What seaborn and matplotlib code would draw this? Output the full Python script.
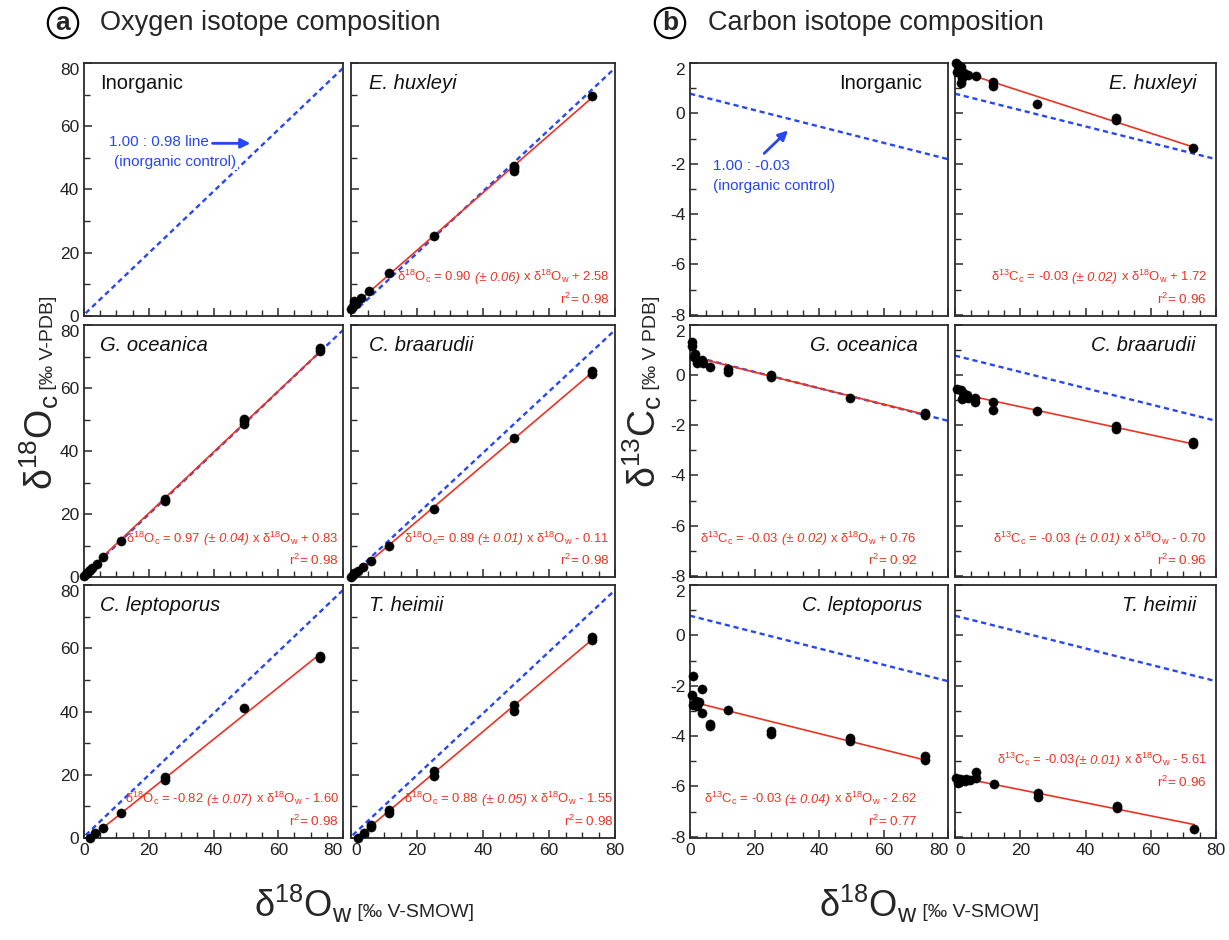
import numpy as np
import matplotlib
matplotlib.use("Agg")
import matplotlib.pyplot as plt
import seaborn as sns
from matplotlib.ticker import MultipleLocator
from matplotlib.offsetbox import TextArea, HPacker, AnnotationBbox

# ---------------- data ----------------
species = ["Inorganic", "E. huxleyi", "G. oceanica", "C. braarudii", "C. leptoporus", "T. heimii"]

# Oxygen: delta18O_w (x) vs delta18O_c (y)
ehux_o_x = [0, 0.5, 1, 1.5, 3, 5.5, 11.5, 25, 49.5, 49.5, 49.5, 73]
ehux_o_y = [2.2, 3.2, 4.8, 3.8, 5.8, 8.0, 13.5, 25.2, 45.8, 46.8, 47.3, 69.6]
gocean_o_x = [0, 0.5, 1, 1.5, 2, 2.5, 4, 6, 11.5, 25, 25, 49.5, 49.5, 49.5, 73, 73]
gocean_o_y = [0.3, 0.8, 1.3, 1.8, 2.3, 2.8, 4.2, 6.2, 11.5, 24.0, 24.8, 48.5, 49.5, 50.2, 71.6, 72.6]
cbraa_o_x = [0, 0.5, 1, 2, 3.5, 6, 11.5, 25, 49.5, 73, 73]
cbraa_o_y = [0, 0.6, 1.2, 2.0, 3.2, 5.0, 10.0, 21.7, 44.0, 64.6, 65.4]
clept_o_x = [2, 3.5, 6, 11.5, 25, 25, 49.5, 73, 73]
clept_o_y = [0, 1.5, 3.2, 8.0, 18.2, 19.2, 41.0, 56.8, 57.7]
theim_o_x = [2, 4, 6, 6, 11.5, 11.5, 25, 25, 49.5, 49.5, 73, 73]
theim_o_y = [0, 1.6, 3.5, 4.2, 8.0, 8.8, 19.5, 21.2, 40.2, 42.0, 62.5, 63.4]

# Carbon: delta18O_w (x) vs delta13C_c (y)
ehux_c_x = [0.3, 0.9, 1.7, 0.5, 2.5, 2.8, 4, 1.9, 2, 6.3, 11.6, 11.6, 25, 49.5, 49.5, 73]
ehux_c_y = [2.0, 1.93, 1.86, 1.65, 1.56, 1.6, 1.53, 1.21, 1.39, 1.47, 1.25, 1.1, 0.36, -0.17, -0.26, -1.39]
gocean_c_x = [0.5, 0.5, 1.6, 1.3, 2.3, 3.7, 4, 6.1, 11.7, 11.7, 25, 25, 49.5, 73, 73]
gocean_c_y = [1.32, 1.18, 0.83, 0.74, 0.5, 0.6, 0.5, 0.34, 0.24, 0.13, 0.0, -0.08, -0.92, -1.51, -1.58]
cbraa_c_x = [0.7, 1.7, 2.5, 2.1, 3.8, 4, 6.1, 6.1, 11.6, 11.6, 25, 49.5, 49.5, 73, 73]
cbraa_c_y = [-0.57, -0.61, -0.7, -0.94, -0.78, -0.91, -0.91, -1.09, -1.09, -1.39, -1.42, -2.04, -2.14, -2.66, -2.75]
clept_c_x = [0.9, 0.5, 3.8, 1.1, 1.9, 2.7, 2.3, 0.9, 3.8, 6.1, 6.1, 11.7, 25, 25, 49.6, 49.6, 73, 73]
clept_c_y = [-1.6, -2.36, -2.12, -2.72, -2.62, -2.64, -2.82, -2.78, -3.08, -3.51, -3.62, -2.95, -3.8, -3.93, -4.09, -4.2, -4.79, -4.96]
theim_c_x = [0.4, 1.4, 2.5, 0.9, 1.9, 3.5, 4.5, 3, 6.5, 6.5, 12, 25.3, 25.3, 49.7, 49.7, 73.3]
theim_c_y = [-5.65, -5.7, -5.75, -5.85, -5.8, -5.7, -5.75, -5.8, -5.41, -5.67, -5.91, -6.28, -6.41, -6.76, -6.87, -7.7]

oxy_x = [None, ehux_o_x, gocean_o_x, cbraa_o_x, clept_o_x, theim_o_x]
oxy_y = [None, ehux_o_y, gocean_o_y, cbraa_o_y, clept_o_y, theim_o_y]
carb_x = [None, ehux_c_x, gocean_c_x, cbraa_c_x, clept_c_x, theim_c_x]
carb_y = [None, ehux_c_y, gocean_c_y, cbraa_c_y, clept_c_y, theim_c_y]

# regression lines (slope, intercept, first x) as drawn
oxy_slope = [None, 0.91, 0.97, 0.89, 0.82, 0.88]
oxy_icpt = [None, 2.58, 0.83, -0.11, -1.60, -1.55]
oxy_start = [None, 2, 2, 2, 2, 2]
carb_slope = [None, -0.042, -0.032, -0.028, -0.032, -0.026]
carb_icpt = [None, 1.73, 0.76, -0.70, -2.62, -5.61]
carb_start = [None, 6, 4, 5, 1, 6.5]

# inorganic control lines
ctrl_o = (0.975, 0.4)
ctrl_c = (-0.0325, 0.78)

# tick labels
oxy_ticks = [0, 20, 40, 60, 80]
carb_ticks = [-8, -6, -4, -2, 0, 2]
x_ticks = [0, 20, 40, 60, 80]

O18c = r"δ$^{18}$O$_\mathrm{c}$"
O18w = r"δ$^{18}$O$_\mathrm{w}$"
C13c = r"δ$^{13}$C$_\mathrm{c}$"
# (before, italic part, after, gap before italic part)
oxy_eq = [None,
          (O18c + " = 0.90", "(± 0.06)", "x " + O18w + " + 2.58", 2.5),
          (O18c + " = 0.97", "(± 0.04)", "x " + O18w + " + 0.83", 2.5),
          (O18c + "= 0.89", "(± 0.01)", "x " + O18w + " - 0.11", 2.5),
          (O18c + " = -0.82", "(± 0.07)", "x " + O18w + " - 1.60", 2.5),
          (O18c + " = 0.88", "(± 0.05)", "x " + O18w + " - 1.55", 2.5)]
oxy_r2 = [None, "0.98", "0.98", "0.98", "0.98", "0.98"]
carb_eq = [None,
           (C13c + " = -0.03", "(± 0.02)", "x " + O18w + " + 1.72", 2.5),
           (C13c + " = -0.03", "(± 0.02)", "x " + O18w + " + 0.76", 2.5),
           (C13c + " = -0.03", "(± 0.01)", "x " + O18w + " - 0.70", 2.5),
           (C13c + " = -0.03", "(± 0.04)", "x " + O18w + " - 2.62", 2.5),
           (C13c + " = -0.03", "(± 0.01)", "x " + O18w + " - 5.61", 0.3)]
carb_r2 = [None, "0.96", "0.92", "0.96", "0.77", "0.96"]

# ---------------- style ----------------
sns.set_style("white")
plt.rcParams.update({
    "font.family": ["Liberation Sans", "DejaVu Sans"],
    "mathtext.fontset": "custom",
    "mathtext.rm": "Liberation Sans",
    "mathtext.it": "Liberation Sans:italic",
    "mathtext.bf": "Liberation Sans:bold",
    "axes.edgecolor": "#2a2a2a",
    "axes.linewidth": 1.3,
    "axes.unicode_minus": False,
})

RED = "#ec3323"
BLUE = "#2746f5"
EQ_FS = 9.4
W, H = 1229, 940
fig = plt.figure(figsize=(W / 100, H / 100), dpi=100)


def rect(x0, x1, y0, y1):
    return [x0 / W, 1 - y1 / H, (x1 - x0) / W, (y1 - y0) / H]


cols = {"a": [(84, 343), (351, 615)], "b": [(690, 948), (955, 1216)]}
rows = [(63, 316), (325, 577), (585, 838)]


def eq_box(ax, parts, xr, y):
    pre, ital, post, gap = parts
    a1 = TextArea(pre, textprops=dict(color=RED, fontsize=EQ_FS))
    a2 = TextArea(ital, textprops=dict(color=RED, fontsize=EQ_FS, style="italic"))
    a3 = TextArea(post, textprops=dict(color=RED, fontsize=EQ_FS))
    first = HPacker(children=[a1, a2], align="baseline", pad=0, sep=gap)
    box = HPacker(children=[first, a3], align="baseline", pad=0, sep=2.5)
    ab = AnnotationBbox(box, (xr, y), xycoords="axes fraction",
                        box_alignment=(1, 0.5), frameon=False, pad=0)
    ax.add_artist(ab)


def style_axes(ax, kind, row, col):
    ax.set_xlim(0, 80)
    ax.set_xticks(x_ticks)
    ax.xaxis.set_minor_locator(MultipleLocator(5))
    if kind == "a":
        ax.set_ylim(0, 80)
        ax.set_yticks(oxy_ticks)
        ax.yaxis.set_minor_locator(MultipleLocator(10))
        yt = oxy_ticks
    else:
        ax.set_ylim(-8.05, 2.0)
        ax.set_yticks(carb_ticks)
        ax.yaxis.set_minor_locator(MultipleLocator(1))
        yt = carb_ticks
    ax.tick_params(which="both", direction="in", top=False, right=False,
                   left=True, bottom=True, colors="#2a2a2a", labelsize=12.5,
                   labelcolor="#222222")
    ax.tick_params(which="major", length=6, width=1.1)
    ax.tick_params(which="minor", length=4, width=1.0)
    ax.set_xlabel("")
    ax.set_ylabel("")
    if col == 0:
        yl = ax.set_yticklabels([str(v) for v in yt])
        yl[-1].set_va("top")
    else:
        ax.tick_params(labelleft=False)
    if row == 2:
        xl = ax.set_xticklabels([str(v) for v in x_ticks])
        if col == 0:
            xl[-1].set_ha("right")
        else:
            xl[0].set_ha("left")
    else:
        ax.tick_params(labelbottom=False)
    for sp in ax.spines.values():
        sp.set_visible(True)
        sp.set_linewidth(1.3)


for kind in ["a", "b"]:
    for i, name in enumerate(species):
        row, col = i // 2, i % 2
        x0, x1 = cols[kind][col]
        y0, y1 = rows[row]
        ax = fig.add_axes(rect(x0, x1, y0, y1))

        # inorganic control line
        sl, ic = ctrl_o if kind == "a" else ctrl_c
        xs = np.array([0.5 if kind == "a" else 0.0, 80.0])
        sns.lineplot(x=xs, y=sl * xs + ic, ax=ax, color=BLUE, lw=1.7,
                     linestyle=(0, (2.2, 1.6)), zorder=2)

        if i > 0:
            xd = oxy_x[i] if kind == "a" else carb_x[i]
            yd = oxy_y[i] if kind == "a" else carb_y[i]
            s = oxy_slope[i] if kind == "a" else carb_slope[i]
            b = oxy_icpt[i] if kind == "a" else carb_icpt[i]
            st = oxy_start[i] if kind == "a" else carb_start[i]
            fx = np.array([st, max(xd)])
            sns.lineplot(x=fx, y=s * fx + b, ax=ax, color=RED, lw=1.2, zorder=3)
            sns.scatterplot(x=xd, y=yd, ax=ax, color="black", s=44,
                            edgecolor="black", linewidth=0.3, zorder=5,
                            clip_on=False)

        style_axes(ax, kind, row, col)

        # species label
        italic = "normal" if name == "Inorganic" else "italic"
        if kind == "a":
            xf = 0.062 if col == 0 else 0.067
            ax.text(xf, 0.918, name, transform=ax.transAxes, fontsize=14.5,
                    style=italic, ha="left", va="center", color="#111111")
        else:
            xf = [0.9, 0.925] if row != 1 else [0.885, 0.92]
            ax.text(xf[col], 0.918, name, transform=ax.transAxes, fontsize=14.5,
                    style=italic, ha="right", va="center", color="#111111")

        # equations
        if i > 0:
            if kind == "a":
                xr = 0.985 if col == 0 else (0.98 if row < 2 else 0.994)
                ye, yr = 0.155, 0.065
                eq, r2 = oxy_eq[i], oxy_r2[i]
            else:
                xr = 0.88 if col == 0 else 0.965
                if i == 5:
                    ye, yr = 0.31, 0.219
                else:
                    ye, yr = 0.155, 0.065
                eq, r2 = carb_eq[i], carb_r2[i]
            eq_box(ax, eq, xr, ye)
            ax.text(xr, yr, "r$^2$= " + r2, transform=ax.transAxes,
                    fontsize=EQ_FS + 0.3, color=RED, ha="right", va="center")

        # inorganic annotations
        if i == 0 and kind == "a":
            ax.text(7.7, 55.1, "1.00 : 0.98 line", color=BLUE, fontsize=11,
                    ha="left", va="center", zorder=6)
            ax.text(9.4, 48.8, "(inorganic control)", color=BLUE, fontsize=11,
                    ha="left", va="center", zorder=6,
                    bbox=dict(fc="white", ec="none", pad=1.0))
            ax.annotate("", xy=(51.4, 54.6), xytext=(39.7, 54.6),
                        arrowprops=dict(arrowstyle="-|>", color=BLUE, lw=2,
                                        mutation_scale=14, shrinkA=0, shrinkB=0))
        if i == 0 and kind == "b":
            ax.text(7.1, -2.09, "1.00 : -0.03", color=BLUE, fontsize=11,
                    ha="left", va="center")
            ax.text(7.1, -2.87, "(inorganic control)", color=BLUE, fontsize=11,
                    ha="left", va="center")
            ax.annotate("", xy=(30.4, -0.68), xytext=(23.0, -1.59),
                        arrowprops=dict(arrowstyle="-|>", color=BLUE, lw=2,
                                        mutation_scale=14, shrinkA=0, shrinkB=0))

# titles
for lab, cx, tx, title in [("a", 63, 100, "Oxygen isotope composition"),
                           ("b", 670, 708, "Carbon isotope composition")]:
    fig.text(cx / W, 1 - 23 / H, lab, fontsize=19, fontweight="bold",
             ha="center", va="center",
             bbox=dict(boxstyle="circle,pad=0.12", fc="none", ec="black", lw=1.6))
    fig.text(tx / W, 1 - 23 / H, title, fontsize=19.5, ha="left", va="center")

# axis labels (big + small parts)
for ax_x, big, small in [(53, O18c, " [‰ V-PDB]"),
                         (656, C13c, " [‰ V PDB]")]:
    fig.text(ax_x / W, 1 - 395 / H, big, rotation=90, rotation_mode="anchor",
             ha="right", va="baseline", fontsize=27)
    fig.text(ax_x / W, 1 - 395 / H, small, rotation=90, rotation_mode="anchor",
             ha="left", va="baseline", fontsize=14)

for bx in [352, 917]:
    fig.text(bx / W, 1 - 917 / H, O18w, ha="right", va="baseline", fontsize=26)
    fig.text(bx / W, 1 - 917 / H, " [‰ V-SMOW]", ha="left", va="baseline",
             fontsize=14)

fig.savefig("out.png", dpi=100, facecolor="white")
